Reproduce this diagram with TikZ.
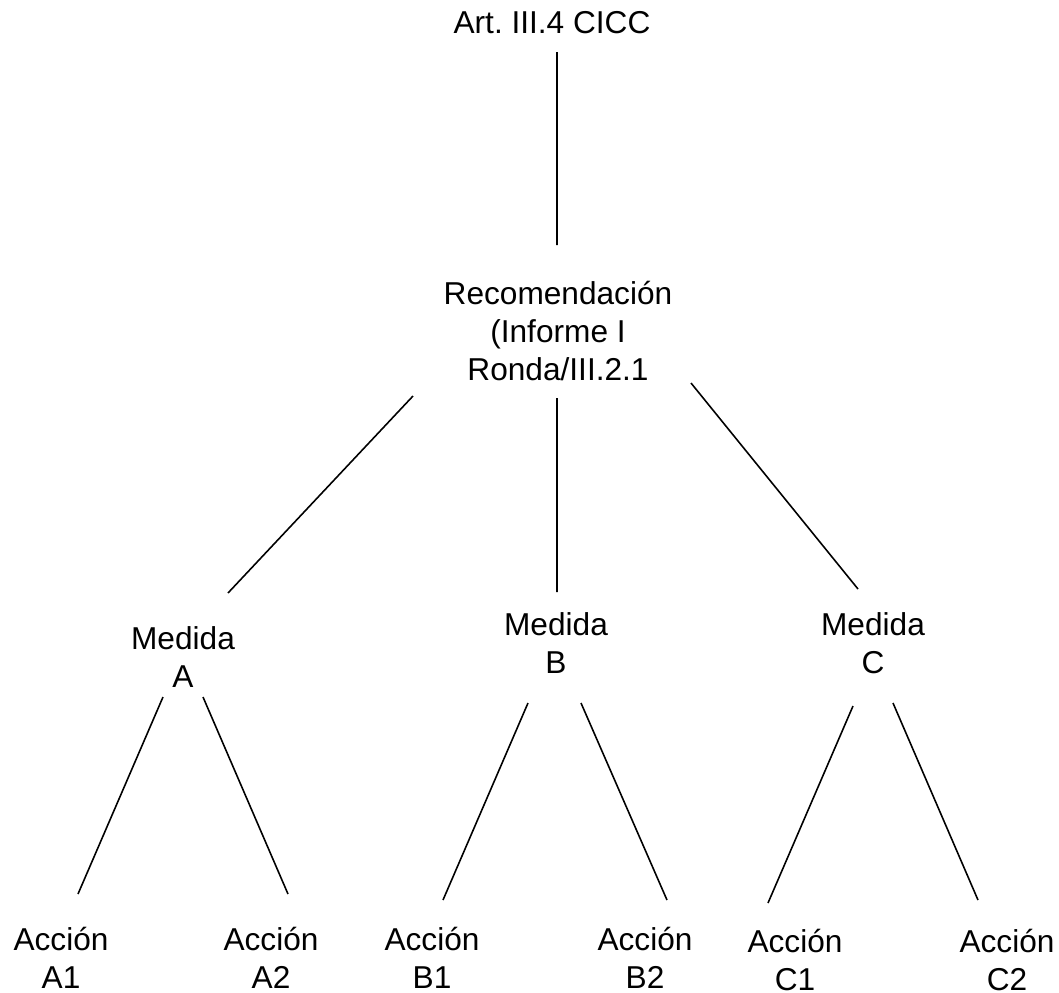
\documentclass[tikz,border=0pt]{standalone}
\usepackage{fontspec}
\setmainfont{Liberation Sans}
\usepackage{tikz}
\usetikzlibrary{calc}
\frenchspacing

\begin{document}
\begin{tikzpicture}[
    lbl/.style={anchor=base, inner sep=0pt, align=center, font=\fontsize{9pt}{10.8pt}\selectfont},
    lien/.style={draw, line width=0.45pt}
  ]
    % Cadre
    \useasboundingbox (0, 0) rectangle (10.59, -9.92);

    % Article et recommandation
    \node[lbl] (art) at (5.52, -0.33) {Art. III.4 CICC};
    \node[lbl] (rec) at (5.58, -3.80) {Recomendación\\(Informe I\\Ronda/III.2.1};

    % Mesures
    \node[lbl] (medA) at (1.83, -6.87) {Medida\\A};
    \node[lbl] (medB) at (5.56, -6.73) {Medida\\B};
    \node[lbl] (medC) at (8.73, -6.73) {Medida\\C};

    % Actions
    \node[lbl] (accA1) at (0.61, -9.88) {Acción\\A1};
    \node[lbl] (accA2) at (2.71, -9.88) {Acción\\A2};
    \node[lbl] (accB1) at (4.32, -9.88) {Acción\\B1};
    \node[lbl] (accB2) at (6.45, -9.88) {Acción\\B2};
    \node[lbl] (accC1) at (7.95, -9.90) {Acción\\C1};
    \node[lbl] (accC2) at (10.07, -9.90) {Acción\\C2};

    % Liens du haut
    \draw[lien] ([shift={(0.05,-0.19)}]art.base) -- ([shift={(-0.01,1.35)}]rec.base);
    \draw[lien] ([shift={(-1.45,-0.16)}]rec.base) -- ([shift={(0.45,0.94)}]medA.base);
    \draw[lien] ([shift={(-0.01,-0.18)}]rec.base) -- ([shift={(0.01,0.81)}]medB.base);
    \draw[lien] ([shift={(1.33,-0.03)}]rec.base) -- ([shift={(-0.15,0.84)}]medC.base);

    % Liens du bas
    \draw[lien] ([shift={(-0.20,-0.10)}]medA.base) -- ([shift={(0.17,0.94)}]accA1.base);
    \draw[lien] ([shift={(0.20,-0.10)}]medA.base) -- ([shift={(0.17,0.94)}]accA2.base);
    \draw[lien] ([shift={(-0.28,-0.30)}]medB.base) -- ([shift={(0.11,0.88)}]accB1.base);
    \draw[lien] ([shift={(0.25,-0.30)}]medB.base) -- ([shift={(0.22,0.88)}]accB2.base);
    \draw[lien] ([shift={(-0.20,-0.33)}]medC.base) -- ([shift={(-0.27,0.87)}]accC1.base);
    \draw[lien] ([shift={(0.20,-0.30)}]medC.base) -- ([shift={(-0.29,0.90)}]accC2.base);
\end{tikzpicture}
\end{document}
